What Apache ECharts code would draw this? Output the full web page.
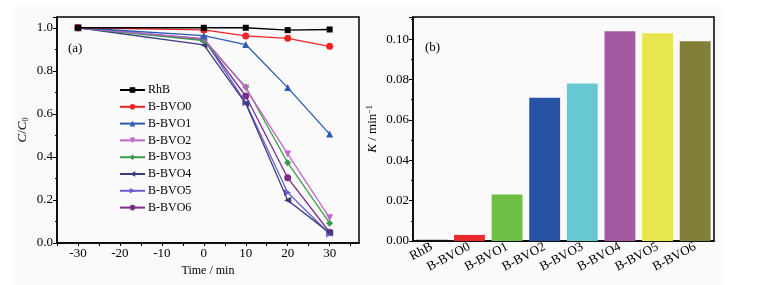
<!DOCTYPE html>
<html>
<head>
<meta charset="utf-8">
<script src="https://cdn.jsdelivr.net/npm/echarts@6/dist/echarts.min.js"></script>
<style>
body { margin: 0; background: #fff; }
#main { width: 759px; height: 285px; }
</style>
</head>
<body>
<div id="main"></div>
<script>
// (a) 降解曲线数据
const timePoints = [-30, 0, 10, 20, 30];
const seriesNames = ['RhB', 'B-BVO0', 'B-BVO1', 'B-BVO2', 'B-BVO3', 'B-BVO4', 'B-BVO5', 'B-BVO6'];
const rhb    = [1.0, 1.0, 1.0, 0.989, 0.992];
const bvo0   = [1.0, 0.99, 0.962, 0.951, 0.914];
const bvo1   = [1.0, 0.963, 0.922, 0.722, 0.506];
const bvo2   = [1.0, 0.95, 0.72, 0.414, 0.117];
const bvo3   = [1.0, 0.94, 0.725, 0.373, 0.092];
const bvo4   = [1.0, 0.92, 0.648, 0.199, 0.047];
const bvo5   = [1.0, 0.948, 0.652, 0.235, 0.042];
const bvo6   = [1.0, 0.945, 0.683, 0.303, 0.05];
const curveValues = [rhb, bvo0, bvo1, bvo2, bvo3, bvo4, bvo5, bvo6];

// (b) 速率常数数据
const barCategories = ['RhB', 'B-BVO0', 'B-BVO1', 'B-BVO2', 'B-BVO3', 'B-BVO4', 'B-BVO5', 'B-BVO6'];
const rateK = [0.0006, 0.003, 0.023, 0.071, 0.078, 0.104, 0.103, 0.099];

// 样式
const lineColors = ['#000000', '#ee2424', '#2a5cb0', '#c066c8', '#3a9a4a', '#3c3c82', '#6a5fcc', '#7e2c8c'];
const lineSymbols = ['rect', 'circle', 'triangle', 'triangle', 'diamond', 'triangle', 'triangle', 'circle'];
const symbolRotates = [0, 0, 0, 180, 0, 90, -90, 0];
const barColors = ['#111111', '#e8282a', '#6fbf45', '#2654a3', '#66c8d0', '#a35aa3', '#e8e64e', '#827f3b'];

const FONT = 'Liberation Serif';

(function() {
    const chart = echarts.init(document.getElementById('main'));

    const lineSeries = seriesNames.map(function(name, i) {
        return {
            name: name,
            type: 'line',
            xAxisIndex: 0,
            yAxisIndex: 0,
            data: timePoints.map(function(t, j) { return [t, curveValues[i][j]]; }),
            symbol: lineSymbols[i],
            symbolRotate: symbolRotates[i],
            symbolSize: lineSymbols[i] === 'rect' ? 6 : 7,
            lineStyle: { color: lineColors[i], width: 1.3 },
            itemStyle: { color: lineColors[i] },
            z: 10 - i
        };
    });

    const barSeries = {
        type: 'bar',
        xAxisIndex: 1,
        yAxisIndex: 1,
        barCategoryGap: '18%',
        data: rateK.map(function(v, i) {
            return { value: v, itemStyle: { color: barColors[i] } };
        })
    };

    const axisText = { color: '#000', fontFamily: FONT, fontSize: 13 };

    chart.setOption({
        backgroundColor: '#fff',
        animation: false,
        textStyle: { fontFamily: FONT },
        graphic: [
            { type: 'rect', z: -10, shape: { x: 13, y: 7, width: 710, height: 278 }, style: { fill: '#fafafa' } },
            { type: 'text', left: 68, top: 42, style: { text: '(a)', font: '13px "Liberation Serif"', fill: '#000' } },
            { type: 'text', left: 425, top: 41, style: { text: '(b)', font: '13px "Liberation Serif"', fill: '#000' } }
        ],
        legend: {
            data: seriesNames,
            orient: 'vertical',
            left: 119,
            top: 84,
            padding: 0,
            itemWidth: 25,
            itemHeight: 7,
            itemGap: 4.8,
            textStyle: { color: '#000', fontFamily: FONT, fontSize: 12, padding: [0, 0, 0, -2] }
        },
        grid: [
            { left: 57, top: 17, width: 302, height: 226, show: true, borderColor: '#000', borderWidth: 1.5, backgroundColor: 'transparent' },
            { left: 413, top: 17, width: 301, height: 224, show: true, borderColor: '#000', borderWidth: 1.5, backgroundColor: 'transparent' }
        ],
        xAxis: [
            {
                gridIndex: 0,
                type: 'value',
                min: -35,
                max: 37,
                interval: 5,
                name: 'Time / min',
                nameLocation: 'middle',
                nameGap: 20,
                nameTextStyle: { color: '#000', fontFamily: FONT, fontSize: 12 },
                axisLine: { onZero: false, lineStyle: { color: '#000', width: 1.5 } },
                axisTick: { length: 3, lineStyle: { color: '#000' } },
                axisLabel: Object.assign({
                    margin: 4,
                    showMaxLabel: false,
                    formatter: function(v) { return v % 10 === 0 ? String(v) : ''; }
                }, axisText),
                splitLine: { show: false }
            },
            {
                gridIndex: 1,
                type: 'category',
                data: barCategories,
                axisLine: { lineStyle: { color: '#000', width: 1.5 } },
                axisTick: { length: 3, lineStyle: { color: '#000' } },
                axisLabel: Object.assign({ rotate: 28, margin: 5, interval: 0 }, axisText)
            }
        ],
        yAxis: [
            {
                gridIndex: 0,
                type: 'value',
                min: 0,
                max: 1.05,
                interval: 0.2,
                name: '{i|C}/{i|C}{s|0}',
                nameLocation: 'middle',
                nameRotate: 90,
                nameGap: 27,
                nameTextStyle: {
                    color: '#000', fontFamily: FONT, fontSize: 13,
                    rich: {
                        i: { fontStyle: 'italic', fontFamily: FONT, fontSize: 13, color: '#000' },
                        s: { fontFamily: FONT, fontSize: 8, color: '#000', verticalAlign: 'bottom', padding: [6, 0, 0, 0] }
                    }
                },
                axisLine: { show: true, onZero: false, lineStyle: { color: '#000', width: 1.5 } },
                axisTick: { show: true, length: 4, lineStyle: { color: '#000' } },
                minorTick: { show: true, splitNumber: 2, length: 2, lineStyle: { color: '#000' } },
                axisLabel: Object.assign({
                    margin: 4,
                    showMaxLabel: false,
                    formatter: function(v) { return v.toFixed(1); }
                }, axisText),
                splitLine: { show: false }
            },
            {
                gridIndex: 1,
                type: 'value',
                min: 0,
                max: 0.111,
                interval: 0.02,
                name: '{i|K} / min{s|−1}',
                nameLocation: 'middle',
                nameRotate: 90,
                nameGap: 33,
                nameTextStyle: {
                    color: '#000', fontFamily: FONT, fontSize: 13,
                    rich: {
                        i: { fontStyle: 'italic', fontFamily: FONT, fontSize: 13, color: '#000' },
                        s: { fontFamily: FONT, fontSize: 8, color: '#000', verticalAlign: 'top', padding: [0, 0, 6, 0] }
                    }
                },
                axisLine: { show: true, onZero: false, lineStyle: { color: '#000', width: 1.5 } },
                axisTick: { show: true, length: 4, lineStyle: { color: '#000' } },
                minorTick: { show: true, splitNumber: 2, length: 2, lineStyle: { color: '#000' } },
                axisLabel: Object.assign({
                    margin: 4,
                    showMaxLabel: false,
                    formatter: function(v) { return v.toFixed(2); }
                }, axisText),
                splitLine: { show: false }
            }
        ],
        series: lineSeries.concat([barSeries])
    });
})();
</script>
</body>
</html>
